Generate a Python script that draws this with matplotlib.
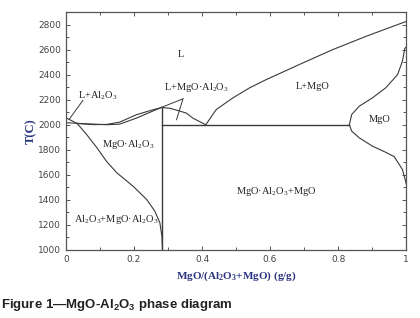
import matplotlib
matplotlib.use("Agg")
import matplotlib.pyplot as plt
from matplotlib.ticker import MultipleLocator

plt.rcParams['mathtext.fontset'] = 'custom'
plt.rcParams['mathtext.rm'] = 'Liberation Serif'
plt.rcParams['mathtext.bf'] = 'Liberation Serif:bold'
plt.rcParams['mathtext.sf'] = 'Liberation Sans:bold'

# boundary curves: x = MgO mass fraction, T in C
mgo_liq_x = [0.411, 0.442, 0.491, 0.540, 0.589, 0.686, 0.784, 0.882, 0.945, 1.0]
mgo_liq_t = [2000, 2122, 2215, 2295, 2361, 2481, 2600, 2706, 2770, 2825]

mgo_sol_x = [1.0, 0.996, 0.989, 0.975, 0.940, 0.901, 0.862, 0.840, 0.833]
mgo_sol_t = [2620, 2610, 2507, 2401, 2295, 2215, 2148, 2082, 2000]

mgo_solv_x = [0.833, 0.840, 0.862, 0.901, 0.940, 0.965, 0.989, 0.997, 1.0]
mgo_solv_t = [2000, 1949, 1896, 1829, 1780, 1745, 1643, 1564, 1530]

spl_liq_x = [0.281, 0.305, 0.334, 0.354, 0.373, 0.393, 0.411]
spl_liq_t = [2138, 2132, 2110, 2093, 2053, 2025, 2000]

lens_up_x = [0.033, 0.08, 0.12, 0.158, 0.207, 0.256, 0.281]
lens_up_t = [2010, 2001, 2003, 2021, 2080, 2120, 2138]
lens_lo_x = [0.0, 0.06, 0.12, 0.158, 0.207, 0.256, 0.281]
lens_lo_t = [2016, 2008, 2000, 2005, 2053, 2110, 2138]

al_liq_x = [0.0, 0.033]
al_liq_t = [2056, 2010]

solv_x = [0.033, 0.06, 0.09, 0.12, 0.15, 0.197, 0.237, 0.261, 0.276, 0.282, 0.284]
solv_t = [2010, 1925, 1820, 1705, 1615, 1510, 1404, 1311, 1218, 1111, 1000]

spinel_x = 0.283
spinel_top = 2137
eutectic_t = 2000
eutectic_x = [0.283, 0.833]

field_labels = [
    ("L", 0.339, 2565),
    ("L+Al$_2$O$_3$", 0.094, 2232),
    ("L+MgO·Al$_2$O$_3$", 0.385, 2300),
    ("L+MgO", 0.725, 2305),
    ("MgO", 0.921, 2040),
    ("MgO·Al$_2$O$_3$", 0.183, 1840),
    ("MgO·Al$_2$O$_3$+MgO", 0.618, 1468),
    ("Al$_2$O$_3$+MgO·Al$_2$O$_3$", 0.148, 1243),
]

leaders = [
    ([0.05, 0.01], [2195, 2045]),
    ([0.344, 0.28], [2207, 2138]),
    ([0.344, 0.325], [2207, 2040]),
]

fig = plt.figure(figsize=(4.2, 3.18), dpi=100)
ax = fig.add_axes([0.157, 0.214, 0.81, 0.748])

lc = '#3a3a3a'
lw = 0.8
for xs, ts in [(mgo_liq_x, mgo_liq_t), (mgo_sol_x, mgo_sol_t), (mgo_solv_x, mgo_solv_t),
               (spl_liq_x, spl_liq_t), (lens_up_x, lens_up_t), (lens_lo_x, lens_lo_t),
               (al_liq_x, al_liq_t), (solv_x, solv_t)]:
    ax.plot(xs, ts, color=lc, lw=lw)
ax.plot([spinel_x, spinel_x], [1000, spinel_top], color=lc, lw=1.0)
ax.plot(eutectic_x, [eutectic_t, eutectic_t], color=lc, lw=1.0)
for xs, ts in leaders:
    ax.plot(xs, ts, color=lc, lw=0.7)

for txt, x, t in field_labels:
    ax.text(x, t, txt, ha='center', va='center', fontsize=7.5,
            family='Liberation Serif', color='#222222')

ax.set_xlim(0, 1)
ax.set_ylim(1000, 2900)
ax.xaxis.set_major_locator(MultipleLocator(0.2))
ax.xaxis.set_minor_locator(MultipleLocator(0.1))
ax.yaxis.set_major_locator(MultipleLocator(200))
ax.yaxis.set_minor_locator(MultipleLocator(100))
ax.set_xticks([0, 0.2, 0.4, 0.6, 0.8, 1.0])
ax.set_xticklabels(['0', '0.2', '0.4', '0.6', '0.8', '1'])
ax.set_yticks(range(1000, 2801, 200))
ax.tick_params(which='both', direction='in', top=True, right=True, colors='#555555',
               labelcolor='#444444', labelsize=6.5, width=0.7)
ax.tick_params(which='major', length=3)
ax.tick_params(which='minor', length=2)
for s in ax.spines.values():
    s.set_color('#555555')
    s.set_linewidth(0.9)

ax.set_xlabel(r'MgO/(Al$_\mathbf{2}$O$_\mathbf{3}$+MgO) (g/g)', family='Liberation Serif',
              fontweight='bold', fontsize=8, color='#2a3580', labelpad=4)
ax.set_ylabel('T(C)', family='Liberation Serif', fontweight='bold', fontsize=9,
              color='#2a3580', labelpad=1)

fig.text(0.002, 0.04, r'Figure 1—MgO-Al$_\mathsf{2}$O$_\mathsf{3}$ phase diagram',
         family='Liberation Sans', fontweight='bold', fontsize=9.5, color='#222222',
         ha='left', va='center')

fig.savefig('out.png', dpi=100)
